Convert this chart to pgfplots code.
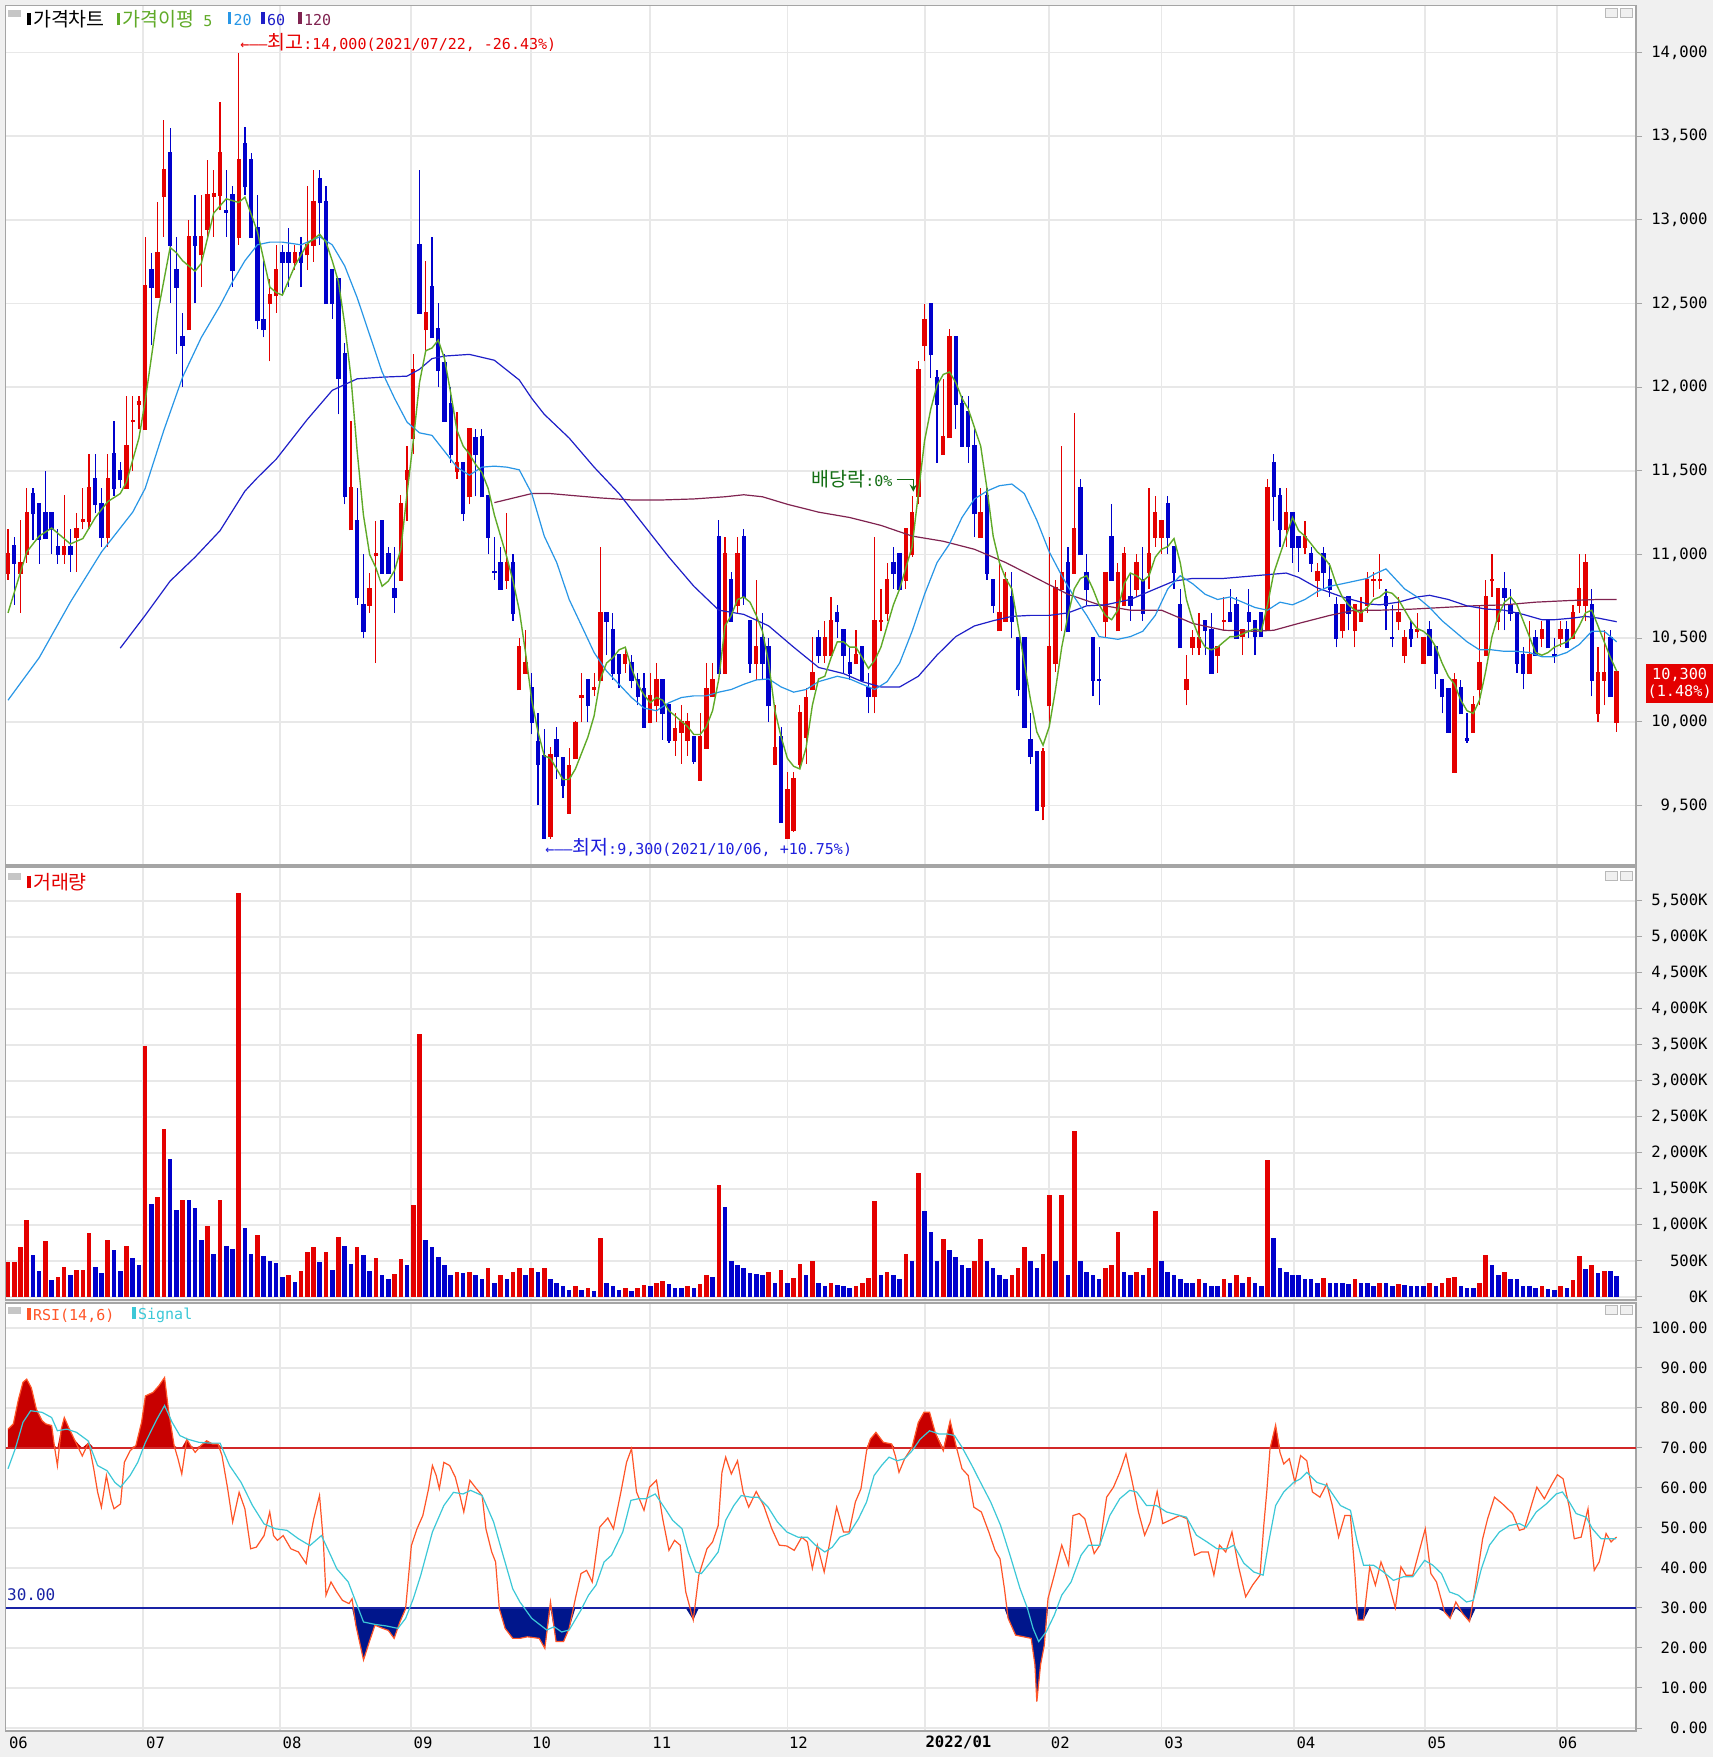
\documentclass[border=0pt]{standalone}
\usepackage{pgfplots}
\pgfplotsset{compat=1.18}
\usepackage{pgfplotstable}
\usepackage{fontspec}
\setmainfont{DejaVu Sans Mono}
\newfontfamily\kr[Scale=1.3]{Noto Sans CJK KR}

\definecolor{cUp}{RGB}{228,0,0}
\definecolor{cDn}{RGB}{0,0,204}
\definecolor{cMa5}{RGB}{96,170,40}
\definecolor{cMa20}{RGB}{40,150,230}
\definecolor{cMa60}{RGB}{30,30,200}
\definecolor{cMa120}{RGB}{128,35,80}
\definecolor{cRsi}{RGB}{255,85,40}
\definecolor{cSig}{RGB}{60,200,215}
\definecolor{cRsiUp}{RGB}{200,0,0}
\definecolor{cRsiDn}{RGB}{0,22,140}
\definecolor{c70}{RGB}{210,40,40}
\definecolor{c30}{RGB}{25,35,165}
\definecolor{cHi}{RGB}{230,0,0}
\definecolor{cLo}{RGB}{30,30,220}
\definecolor{cDiv}{RGB}{20,110,20}
\definecolor{cGrid}{RGB}{232,232,232}
\definecolor{cFrame}{RGB}{165,165,165}
\definecolor{cBack}{RGB}{240,240,240}

\newcommand\mk[1]{\textcolor{#1}{\rule[0.1ex]{1.6pt}{6pt}}}
\newcommand\xlab[2]{\node[anchor=west, inner sep=0, font=\fontsize{7.8pt}{9pt}\selectfont] at (axis cs:#1,-3.7) {#2};}

% daily candles: index, open, high, low, close
\pgfplotstableread{
i o h l c
0 10890 11150 10850 11000
1 11050 11104 10699 10950
2 10890 11205 10650 10950
3 11000 11400 10950 11250
4 11360 11400 11085 11245
5 11300 11300 10945 11095
6 11250 11500 11100 11100
7 11250 11250 11000 11150
8 11047 11150 10945 11000
9 11000 11357 10945 11047
10 11047 11150 10895 11000
11 11104 11250 10895 11150
12 11200 11400 11150 11205
13 11200 11600 11150 11400
14 11450 11600 11245 11300
15 11300 11400 11047 11104
16 11104 11600 11047 11450
17 11600 11800 11350 11395
18 11500 11550 11400 11450
19 11400 11950 11395 11650
20 11795 11950 11500 11800
21 11900 11950 11750 11910
22 11750 12900 11750 12604
23 12700 12800 12250 12600
24 12541 13105 12541 12800
25 13142 13595 12900 13300
26 13400 13547 12503 12851
27 12700 12900 12200 12600
28 12297 12446 12000 12250
29 12345 13000 12345 12900
30 12900 13150 12503 12851
31 12794 13150 12598 12900
32 12946 13357 12900 13150
33 13145 13300 12900 13152
34 13150 13705 13057 13400
35 13055 13300 12900 13050
36 13150 13205 12598 12700
37 12900 14000 12851 13357
38 13452 13557 13150 13200
39 13357 13400 12900 12900
40 12952 13150 12345 12400
41 12400 12756 12297 12345
42 12503 12645 12155 12550
43 12550 12850 12446 12700
44 12800 12850 12550 12750
45 12800 12950 12600 12750
46 12750 12850 12700 12800
47 12800 12900 12600 12750
48 12794 13200 12700 12851
49 12851 13300 12750 13105
50 13247 13300 12851 13105
51 13105 13200 12503 12503
52 12700 12700 12408 12503
53 12645 12645 11838 12054
54 12196 12265 11300 11348
55 11150 11800 11150 11400
56 11200 11400 10700 10746
57 10699 11000 10500 10540
58 10699 10890 10650 10794
59 10995 11200 10350 11000
60 11200 11200 10890 10890
61 11000 11047 10890 10890
62 10794 11047 10650 10746
63 10848 11357 10848 11300
64 11450 11650 11200 11500
65 11696 12196 11600 12100
66 12851 13300 12446 12446
67 12345 12756 12196 12446
68 12598 12900 12297 12297
69 12345 12503 12000 12100
70 12145 12196 11800 11800
71 11900 12000 11547 11600
72 11500 11850 11450 11547
73 11547 11547 11200 11245
74 11348 11750 11300 11750
75 11696 11750 11348 11600
76 11700 11750 11348 11348
77 11350 11350 11000 11104
78 10897 11104 10848 10895
79 10950 11047 10794 10794
80 10848 11250 10794 10950
81 10950 11000 10604 10650
82 10193 10500 10193 10445
83 10294 10547 10294 10350
84 10199 10294 9924 10000
85 9880 10054 9500 9750
86 9797 9956 9300 9306
87 9320 9850 9300 9800
88 9892 9971 9655 9797
89 9781 9781 9544 9623
90 9455 9845 9455 9734
91 9781 10006 9781 9990
92 10150 10294 9996 10152
93 10250 10250 9996 10098
94 10197 10294 10152 10199
95 10250 11047 10250 10650
96 10650 10650 10398 10604
97 10547 10650 10250 10294
98 10398 10398 10199 10294
99 10350 10445 10294 10398
100 10350 10398 10199 10250
101 10250 10294 10098 10152
102 10193 10294 9971 9971
103 10000 10294 10000 10152
104 10098 10350 10000 10250
105 10250 10250 9892 10050
106 10098 10098 9876 9892
107 9892 10050 9797 9955
108 9940 10098 9750 10000
109 9892 10050 9797 10000
110 9908 9908 9750 9766
111 9655 10050 9655 9908
112 9845 10350 9845 10193
113 10152 10350 10152 10250
114 11104 11205 10294 10294
115 10294 11104 10294 11000
116 10848 10895 10604 10604
117 10699 11104 10650 11000
118 11104 11150 10699 10746
119 10604 10604 10294 10350
120 10350 10848 10250 10445
121 10500 10650 10250 10350
122 10445 10500 10000 10098
123 9750 10098 9750 9845
124 9908 9971 9400 9400
125 9306 9702 9306 9591
126 9353 9702 9340 9655
127 9750 10098 9718 10050
128 9908 10199 9750 10145
129 10193 10508 10193 10294
130 10500 10547 10350 10398
131 10398 10600 10350 10500
132 10398 10746 10398 10604
133 10650 10700 10500 10604
134 10547 10547 10294 10398
135 10350 10445 10250 10294
136 10350 10547 10350 10398
137 10445 10445 10250 10250
138 10199 10294 10050 10152
139 10152 11104 10050 10604
140 10600 10794 10540 10604
141 10650 10950 10604 10848
142 10950 11047 10794 10890
143 11000 11000 10794 10794
144 10848 11150 10794 11150
145 11000 11350 10985 11245
146 11350 12155 11300 12100
147 12250 12500 12155 12400
148 12500 12500 12054 12196
149 12054 12100 11547 11900
150 11600 12050 11600 11700
151 11700 12345 11700 12300
152 12297 12297 11750 11900
153 11900 11950 11650 11650
154 11850 11950 11547 11650
155 11650 11750 11104 11245
156 11104 11400 11104 11245
157 11350 11400 10848 10890
158 10848 10848 10650 10699
159 10547 10950 10547 10650
160 10604 10895 10604 10848
161 10746 10895 10500 10604
162 10500 10500 10152 10193
163 10500 10500 9971 9971
164 9892 10050 9750 9797
165 9819 9819 9471 9471
166 9497 9845 9411 9819
167 10098 11104 9971 10445
168 10350 10850 10300 10800
169 10794 11650 10540 10890
170 10950 11047 10540 10540
171 10890 11845 10890 11150
172 11400 11450 11000 11000
173 10890 11000 10699 10794
174 10500 10500 10152 10250
175 10252 10445 10098 10250
176 10604 10890 10500 10890
177 11104 11300 10848 10848
178 10547 10950 10547 10890
179 10699 11047 10699 11000
180 10746 10890 10604 10699
181 10794 11000 10746 10950
182 10848 11047 10604 10650
183 10895 11400 10794 11000
184 11104 11350 11047 11250
185 11104 11200 11000 11200
186 11300 11350 11000 11104
187 11047 11047 10794 10895
188 10699 10794 10445 10445
189 10193 10398 10098 10250
190 10445 10547 10398 10500
191 10445 10650 10398 10500
192 10600 10600 10398 10547
193 10547 10650 10294 10294
194 10398 10445 10294 10445
195 10602 10746 10547 10604
196 10650 10794 10604 10604
197 10699 10746 10500 10500
198 10510 10547 10398 10547
199 10650 10794 10500 10604
200 10600 10600 10398 10510
201 10650 10650 10510 10510
202 10547 11450 10547 11400
203 11547 11600 11200 11348
204 11348 11400 11047 11150
205 11150 11400 11047 11250
206 11250 11250 10950 11047
207 11104 11104 10895 11047
208 11047 11200 11000 11104
209 11000 11047 10895 10950
210 10848 10950 10746 10895
211 11000 11047 10794 10895
212 10848 10950 10746 10794
213 10699 10746 10445 10500
214 10547 10699 10500 10699
215 10746 10746 10547 10650
216 10547 10699 10445 10699
217 10604 10746 10600 10650
218 10699 10895 10650 10848
219 10845 10895 10746 10848
220 10845 11000 10794 10848
221 10746 10794 10547 10699
222 10502 10699 10445 10500
223 10600 10746 10547 10650
224 10398 10547 10350 10500
225 10547 10600 10445 10500
226 10545 10650 10500 10547
227 10350 10500 10350 10500
228 10547 10600 10398 10398
229 10445 10445 10193 10294
230 10250 10250 10050 10152
231 10193 10193 9940 9940
232 9702 10294 9702 10250
233 10199 10250 10050 10050
234 9895 10050 9876 9892
235 9940 10152 9940 10098
236 10193 10699 10098 10350
237 10398 10848 10398 10746
238 10845 11000 10746 10848
239 10604 10794 10547 10794
240 10794 10895 10547 10746
241 10699 10794 10604 10650
242 10650 10650 10294 10350
243 10398 10445 10193 10294
244 10294 10600 10294 10398
245 10500 10547 10398 10398
246 10500 10600 10445 10547
247 10600 10600 10445 10445
248 10400 10500 10350 10398
249 10500 10600 10445 10547
250 10547 10600 10445 10445
251 10500 10699 10500 10650
252 10699 11000 10650 10794
253 10699 11000 10600 10950
254 10699 10794 10152 10250
255 10050 10445 10000 10294
256 10250 10547 10098 10294
257 10500 10547 10152 10152
258 10000 10300 9940 10300
}\candles

% volume in thousands; u = 1 for a red bar (volume above the day before)
\pgfplotstableread{
i v u
0 486 1
1 486 1
2 694 1
3 1065 1
4 579 0
5 356 0
6 773 1
7 231 0
8 278 1
9 417 1
10 301 0
11 370 1
12 370 1
13 894 1
14 417 0
15 333 0
16 796 1
17 648 0
18 356 0
19 704 1
20 546 0
21 440 0
22 3481 1
23 1292 0
24 1394 1
25 2333 1
26 1917 0
27 1204 0
28 1343 1
29 1343 0
30 1241 0
31 796 0
32 986 1
33 602 0
34 1343 1
35 704 0
36 667 0
37 5611 1
38 963 0
39 602 0
40 861 1
41 569 0
42 500 0
43 477 0
44 278 0
45 310 1
46 208 0
47 356 1
48 625 1
49 694 1
50 486 0
51 625 1
52 380 0
53 833 1
54 708 0
55 463 0
56 694 1
57 579 0
58 361 0
59 546 1
60 301 0
61 245 0
62 315 1
63 523 1
64 440 0
65 1273 1
66 3648 1
67 796 0
68 700 0
69 550 0
70 450 0
71 300 0
72 350 1
73 330 0
74 350 1
75 300 0
76 250 0
77 400 1
78 200 0
79 300 1
80 250 0
81 350 1
82 400 1
83 300 0
84 400 1
85 350 0
86 400 1
87 250 0
88 200 0
89 150 0
90 100 0
91 150 1
92 100 0
93 120 1
94 80 0
95 820 1
96 200 0
97 150 0
98 100 0
99 120 1
100 90 0
101 130 1
102 160 1
103 150 0
104 200 1
105 220 1
106 180 0
107 130 0
108 120 0
109 150 1
110 120 0
111 180 1
112 300 1
113 280 0
114 1560 1
115 1250 0
116 500 0
117 450 0
118 400 0
119 330 0
120 320 0
121 300 0
122 350 1
123 200 0
124 380 1
125 200 0
126 260 1
127 460 1
128 300 0
129 500 1
130 200 0
131 150 0
132 200 1
133 170 0
134 150 0
135 120 0
136 150 1
137 200 1
138 260 1
139 1330 1
140 300 0
141 350 1
142 300 0
143 250 0
144 600 1
145 500 0
146 1720 1
147 1200 0
148 900 0
149 500 0
150 800 1
151 650 0
152 550 0
153 450 0
154 400 0
155 500 1
156 800 1
157 500 0
158 400 0
159 300 0
160 250 0
161 300 1
162 400 1
163 700 1
164 500 0
165 400 0
166 600 1
167 1420 1
168 500 0
169 1420 1
170 300 0
171 2300 1
172 500 0
173 350 0
174 300 0
175 250 0
176 400 1
177 450 1
178 900 1
179 350 0
180 300 0
181 350 1
182 300 0
183 400 1
184 1200 1
185 500 0
186 350 0
187 300 0
188 250 0
189 200 0
190 200 0
191 250 1
192 200 0
193 150 0
194 150 0
195 250 1
196 200 0
197 300 1
198 200 0
199 280 1
200 200 0
201 150 0
202 1900 1
203 820 0
204 400 0
205 350 0
206 300 0
207 300 0
208 250 0
209 250 0
210 200 0
211 260 1
212 200 0
213 200 0
214 200 0
215 180 0
216 250 1
217 200 0
218 200 0
219 150 0
220 200 1
221 200 0
222 150 0
223 180 1
224 160 0
225 150 0
226 150 0
227 150 0
228 200 1
229 150 0
230 200 1
231 260 1
232 280 1
233 150 0
234 120 0
235 120 0
236 200 1
237 580 1
238 450 0
239 300 0
240 350 1
241 250 0
242 250 0
243 150 0
244 150 0
245 120 0
246 148 1
247 116 0
248 102 0
249 148 1
250 125 0
251 231 1
252 565 1
253 394 0
254 440 1
255 333 0
256 356 1
257 356 0
258 292 0
}\volume

\pgfplotstableread{
x y
0 74.7
0.86 76
1.66 82
2.4 86.4
3.0 87.2
3.75 85
4.55 79.7
5.47 76.8
6.08 76
7.0 75.6
7.43 70.6
7.92 65.6
8.54 74.7
9.03 77.6
9.76 75
10.68 72
11.91 68
12.95 71.4
13.75 64.8
14.37 59
14.98 55.2
15.78 63.1
16.51 57.3
17.0 54.8
18.05 56
18.66 66.4
19.58 69.3
20.51 70.6
21.42 76.4
22.04 83
23.27 83.9
24.18 85.5
25.11 87.6
25.72 79.7
26.64 70.6
27.26 67.3
27.87 63.5
28.67 72.2
29.28 70.6
30.02 68.9
30.94 70.6
31.86 71.8
32.78 71
33.69 71
34.32 68.1
35.23 59.8
36.03 51.5
37.07 58.9
37.99 54.8
38.92 44.8
39.83 45.2
41.07 48.1
41.98 54
42.59 48.1
43.21 46.9
44.13 48.1
45.36 44.8
46.58 44
47.81 41.1
48.42 47.3
49.04 52.3
49.96 58.1
50.58 46.5
51.0 33.2
51.8 36.5
52.73 34
53.64 31.9
54.69 31.1
55.18 32.3
55.79 25.7
57.02 17
57.94 21.5
58.85 25.7
60.09 24.9
61.0 24.4
61.93 22.4
62.85 26.5
63.77 29.8
64.69 45.6
65.6 49.8
66.53 53.1
67.45 59.8
68.07 65.6
68.68 63.1
69.17 59.8
69.9 66.4
70.83 65.6
71.74 62.7
72.36 58.9
73.1 54
74.08 61.9
75.13 59.8
76.04 58.1
76.65 49.8
77.58 44
78.2 41.5
78.8 29.8
79.73 24.9
80.95 22.4
82.1 22.4
83.3 22.8
85.2 22.4
86.1 19.9
87 31.5
87.9 21.6
89.1 21.6
90 24.9
91 32.4
91.9 38.6
92.8 39.4
93.7 36.5
94.9 50.2
96.2 52.5
97.1 49.8
98.3 59
99.2 66.4
100 69.8
100.8 59
102 54.4
102.9 60.2
104 61.9
105 52.3
106 44.4
106.9 46.9
107.8 45.7
108.7 34
109.9 27
110.8 38.2
112.1 44.8
113 46.5
113.9 50.6
114.5 63.9
115.1 67.7
116 63.5
117 66.8
117.9 59
118.8 55.2
120 59.1
121.2 55.6
122.5 49.8
123.7 45.7
124.9 45.5
126.1 44.4
127.3 47.7
128.2 46.5
129 39.9
129.8 45.7
130.9 39
131.9 47.3
132.9 55.2
134 49
134.9 49
135.9 56.5
136.8 59.8
137.7 69.3
138.3 72.2
139.2 73.9
140.4 71.4
141.7 71
142.3 68.1
142.9 63.9
143.8 67.3
145 70.2
146 76.4
146.9 78.9
147.8 78.9
148.7 73.9
150 69.3
151.1 76.8
152.1 70.2
153 64.8
154 63.1
154.9 55.2
156.1 54
157.3 49
158.3 44.4
159.1 42.3
159.8 34.9
160.4 27.4
161.6 23.2
162.9 22.8
164.1 22.4
164.7 15.8
165 6.6
165.6 15.8
166.2 20.7
166.8 32.4
167.8 38.2
169 45.7
170.1 40.7
170.8 53.1
171.8 53.6
172.7 52.3
174.2 43.6
175.1 45.7
176.2 57.7
177.3 60.2
178.3 63.9
179.3 68.5
180.2 62.3
181.3 54
182.3 48.2
183.2 51.5
184.3 59.1
185.2 51.1
186.3 51.9
187.9 53.1
189.1 52.3
190.3 43.2
191.4 44
192.5 44
193.4 38.2
194.3 45.7
195.3 44
196.3 49
197.3 40.7
198.5 32.8
199.6 35.7
200.8 38.2
201.4 50.6
201.9 59.4
202.4 69.8
203.3 75.7
204 68.9
204.6 66
205.5 67.3
206.4 61.4
207.3 68.1
208.3 66.8
209.2 59
210.4 57.7
211.5 61
212.4 55.6
213.4 47.7
214.4 53.1
215.3 53.1
216 39
216.5 27
217.4 27
218.4 40.3
219.3 35.7
220.2 41.5
221.3 36.9
222.5 30
223.4 40.3
224.2 38.2
225.3 38.2
226.3 44
227.3 49.8
228.2 38.6
229.1 36.5
230.4 29
231.3 27.4
232.2 31.5
233.3 28.6
234.4 26.6
235.4 35.7
236.5 47.3
237.3 52.3
238.4 57.7
239.7 56
241.3 53.6
242.4 49.4
243.2 49.8
244 54
245.2 60.2
246.4 57.3
247.5 60.6
248.5 63.3
249.4 62.3
250.4 55.2
251.2 47.3
252.3 47.7
253.4 54.8
254.4 39.4
255.2 41.5
256.3 48.6
257.1 46.5
257.6 47.3
258 47.7
}\rsitab

\pgfplotstableread{
x y
0 64.8
1.17 69.8
2.4 76.4
3.63 79.3
5.47 78.9
7.0 77.6
7.92 74.3
9.46 74.7
10.99 73.9
12.83 71.8
14.37 65.6
15.9 64.3
17.13 61.4
18.05 60.2
19.58 63.1
20.81 66.4
22.04 71.4
23.88 77.2
25.11 80.6
26.33 76.4
27.56 73.1
28.79 72.2
30.63 71.4
32.47 71.2
34.01 71.2
35.54 65.6
37.38 61.4
39.22 55.6
41.07 51
42.9 49.8
44.74 49.4
46.58 47.3
48.42 45.6
50.27 48.1
51.5 44
52.73 39.8
54.57 36.5
55.79 31.5
57.02 26.5
58.85 25.9
60.7 25.5
62.54 24.9
63.77 27.4
65.0 32.3
66.2 38.2
68.07 49
69.9 55.6
71.44 58.9
72.98 58.5
74.2 59.4
76.04 58.1
77.88 51.5
79.1 44.8
80.95 34.8
82.1 31.5
84 27.4
86.4 24.5
87.6 25.3
88.8 24
90 24.5
91.9 29.5
93.1 33.2
94.3 35.7
95.6 41.5
96.8 43.2
98.6 49
99.9 56.9
101.1 57.3
102.3 57.3
103.8 58.5
105.4 54.8
106.6 51.9
108.1 49.8
109.1 44
110.3 39
111.2 38.6
112.7 41.5
113.9 44
115.1 51.9
116.4 55.6
117.6 58.1
119.1 57.7
120.3 57.7
121.9 55.2
123.4 51.5
124.9 49
126.7 47.7
128.2 47.7
129.5 45.7
131 44
132.2 45.2
133.4 47.7
134.9 48.6
136.4 52.3
137.7 56.5
138.9 63.1
140.1 65.6
141.3 67.7
142.6 66.8
143.8 67.3
145 69.3
146.3 72.2
147.8 74.3
149.3 73.5
150.6 73.5
151.8 73.1
153 70.2
154.6 65.6
156.1 61
157.6 56.5
159.2 50.6
160.7 43.2
162.3 34.9
163.5 29.9
164.4 24.9
165.3 21.6
166.5 24
167.8 28.2
169 33.2
170.5 36.5
172.1 43.2
173.3 45.7
175.1 45.7
176.7 53.1
178.3 57.3
179.9 59.4
181 59
182.6 55.6
184.2 55.6
185.8 54
188 53.1
189 52.7
190.6 48.2
192.3 46.5
193.9 44.8
195.5 44.8
196.6 45.7
198.2 41.2
199.8 39
201.3 38.2
202.2 46.5
203.3 55.6
204.6 59
206.2 61.4
207.3 62.3
208.3 63.9
209.9 61.4
211.5 60.6
212.6 58.1
213.7 55.6
215.3 54.4
216.4 46.5
217.4 40.7
219 40.7
220.6 39
222.2 36.9
223.8 37.8
225.3 37.8
227.2 41.9
228.5 40.7
229.9 38.6
231.2 34
232.6 33.2
233.9 31.5
235 31.9
236.3 39.8
237.6 45.7
239.2 49
240.8 50.6
242.4 51.1
243.5 50.2
245.1 54
246.7 56
248.3 58.5
249.3 59
250.4 56.5
251.5 53.6
253.1 52.7
254.1 49.8
255.5 47.3
256.8 47.3
257.9 47.3
}\sigtab

\pgfplotsset{
  panel/.style={
    scale only axis, width=815.2pt, anchor=south west,
    xmin=-0.385, xmax=261.1,
    axis background/.style={fill=white},
    axis line style={draw=cFrame, line width=0.8pt},
    xtick={21.7,43.6,64.6,83.9,102.9,125,147.1,166.9,185,206.2,227.2,248.4},
    xticklabels={}, xtick style={draw=none},
    xmajorgrids, ymajorgrids,
    major grid style={draw=cGrid, line width=0.9pt},
    ytick pos=right, yticklabel pos=right,
    tick align=outside, major tick length=3pt,
    ytick style={draw=cFrame, line width=0.5pt},
    yticklabel style={anchor=east, xshift=35.5pt, text=black,
      font=\fontsize{7.8pt}{8pt}\selectfont},
    scaled y ticks=false,
    /pgf/number format/assume math mode=true,
    colormap={updn}{color=(cUp) color=(cDn)},
    point meta min=0, point meta max=1,
  },
}

\begin{document}
\fontsize{7.5pt}{9pt}\selectfont
\begin{tikzpicture}
\useasboundingbox (0,0) rectangle (856.5pt,878.5pt);
\fill[cBack] (0,0) rectangle (856.5pt,878.5pt);

% ---------------- price panel
\begin{axis}[panel, at={(2.8pt,446pt)}, height=429.7pt,
  ymin=9144, ymax=14281, ytick={9500,10000,...,14000},
  yticklabel={\pgfmathprintnumber[1000 sep={,}]{\tick}},
  clip=false]
% wicks, low to high
\addplot[line width=0.6pt, forget plot,
  point meta={\thisrow{c}<\thisrow{o}},
  quiver={u=0, v=\thisrow{h}-\thisrow{l}, colored}]
  table[x=i, y=l] {\candles};
% bodies, open to close
\addplot[line width=2.2pt, forget plot,
  point meta={\thisrow{c}<\thisrow{o}},
  quiver={u=0, v=abs(\thisrow{c}-\thisrow{o})+12, colored}]
  table[x=i, y expr={min(\thisrow{o},\thisrow{c})-6}] {\candles};

% moving average 120
\addplot[cMa120, line width=0.6pt] table {
x y
78 11310
84 11364
87 11364
95 11338
100 11326
105 11326
110 11332
115 11345
118 11357
121 11345
125 11300
130 11253
135 11221
140 11174
145 11110
150 11079
155 11031
160 10952
165 10857
170 10762
175 10699
180 10667
185 10667
190 10588
195 10547
200 10541
203 10547
207 10588
212 10636
216 10667
220 10667
225 10673
230 10683
235 10693
240 10699
245 10715
250 10724
255 10731
258 10731
};
% moving average 60
\addplot[cMa60, line width=0.6pt] table {
x y
18 10440
22 10636
26 10841
30 10984
34 11142
38 11379
40 11459
43 11569
48 11807
52 11981
56 12050
60 12060
64 12066
66 12107
68 12171
70 12186
74 12196
78 12161
82 12043
84 11933
86 11838
90 11696
94 11522
98 11364
102 11174
106 10984
110 10810
114 10667
118 10642
122 10573
126 10446
130 10325
134 10288
137 10240
140 10208
143 10208
146 10272
149 10399
152 10509
155 10573
158 10604
161 10630
164 10636
167 10636
170 10651
173 10693
176 10699
180 10731
184 10794
187 10841
190 10857
195 10857
200 10873
205 10889
207 10863
210 10800
214 10746
218 10705
220 10699
223 10715
226 10746
228 10756
231 10731
234 10693
237 10674
240 10667
243 10642
246 10610
248 10610
251 10620
253 10630
255 10620
258 10598
};
% moving average 20
\addplot[cMa20, line width=0.6pt] table {
x y
0 10129
5 10383
10 10715
15 11015
20 11253
22 11395
25 11743
28 12060
31 12297
34 12487
36 12630
38 12756
40 12851
42 12867
44 12867
47 12851
50 12899
52 12851
54 12725
56 12535
58 12313
60 12091
62 11933
64 11791
66 11727
68 11712
70 11617
72 11522
74 11474
76 11522
78 11528
80 11522
82 11506
84 11364
86 11110
88 10952
90 10731
92 10573
94 10414
96 10303
98 10224
100 10145
102 10082
104 10066
106 10114
108 10145
110 10155
112 10155
114 10177
116 10193
118 10224
120 10250
122 10256
124 10208
126 10177
128 10193
130 10240
133 10272
135 10256
137 10224
139 10193
141 10240
143 10351
145 10541
147 10762
149 10952
151 11063
153 11221
155 11332
157 11379
159 11411
161 11421
163 11364
165 11205
167 11015
169 10873
171 10746
173 10636
175 10509
178 10493
180 10509
182 10541
184 10636
186 10794
188 10873
190 10825
192 10762
194 10731
196 10746
198 10715
200 10683
202 10667
204 10715
206 10699
208 10731
210 10778
212 10810
214 10825
216 10841
218 10857
219 10880
221 10914
224 10794
226 10746
228 10683
230 10604
232 10541
234 10478
236 10430
238 10430
240 10421
242 10421
244 10414
246 10389
248 10389
250 10414
252 10462
254 10541
256 10541
258 10478
};
% moving average 5
\addplot[cMa5, line width=0.7pt] table {
x y
0 10651
3 11015
5 11110
7 11158
9 11095
10 11063
12 11095
14 11221
16 11316
18 11364
19 11433
21 11696
22 11917
24 12440
26 12835
27 12804
28 12756
30 12693
31 12740
33 13041
35 13126
37 13104
38 13136
40 12930
42 12598
43 12566
44 12550
46 12725
48 12857
50 12914
51 12867
52 12756
53 12630
54 12376
55 12060
56 11617
57 11237
58 11000
59 10921
60 10810
61 10841
62 10905
63 11031
64 11364
65 11680
66 12028
67 12218
68 12234
69 12281
70 12171
71 11965
72 11743
73 11648
74 11601
75 11538
76 11490
77 11395
78 11237
79 11110
80 10984
81 10841
82 10667
83 10414
84 10129
85 9940
86 9797
87 9781
88 9718
89 9655
90 9655
91 9718
92 9813
93 9908
94 10035
95 10256
96 10351
97 10383
98 10430
99 10446
100 10319
101 10224
102 10161
103 10114
104 10145
105 10129
106 10066
107 10035
108 10003
109 9971
110 9924
111 9924
112 9971
113 10066
114 10256
115 10573
116 10636
117 10731
118 10746
119 10715
120 10636
121 10541
122 10351
123 10066
124 9908
125 9781
126 9734
127 9718
128 9845
129 10098
130 10256
131 10272
132 10383
133 10478
134 10478
135 10446
136 10446
137 10383
138 10319
139 10367
140 10446
141 10573
142 10699
143 10794
144 10921
145 11047
146 11364
147 11680
148 11870
149 12012
150 12076
151 12091
152 12028
153 11933
154 11870
155 11759
156 11648
157 11395
158 11110
159 10952
160 10857
161 10794
162 10573
163 10351
164 10129
165 9940
166 9860
167 9971
168 10193
169 10446
170 10636
171 10794
172 10857
173 10873
174 10794
175 10699
176 10636
177 10610
178 10667
179 10825
180 10889
181 10873
182 10841
183 10873
184 10984
185 11031
186 11047
187 11095
188 10952
189 10731
190 10604
191 10509
192 10446
193 10430
194 10446
195 10478
196 10509
197 10509
198 10525
199 10541
200 10557
201 10541
202 10699
203 10889
204 11000
205 11110
206 11221
207 11142
208 11110
209 11063
210 11015
211 10984
212 10936
213 10825
214 10746
215 10699
216 10667
217 10651
218 10683
219 10731
220 10746
221 10778
222 10768
223 10731
224 10667
225 10604
226 10557
227 10541
228 10509
229 10446
230 10351
231 10272
232 10224
233 10129
234 10066
235 10050
236 10129
237 10303
238 10509
239 10636
240 10715
241 10746
242 10699
243 10604
244 10509
245 10414
246 10398
247 10414
248 10446
249 10462
250 10478
251 10509
252 10573
253 10651
254 10667
255 10573
256 10478
257 10383
258 10303
};

\node[anchor=west, inner sep=0, text=cHi] at (axis cs:37.2,14060)
  {←——{\kr 최고}:14,000(2021/07/22, -26.43\%)};
\node[anchor=west, inner sep=0, text=cLo] at (axis cs:86.1,9246)
  {←——{\kr 최저}:9,300(2021/10/06, +10.75\%)};
\node[anchor=east, inner sep=0, text=cDiv] at (axis cs:141.9,11449)
  {{\kr 배당락}:0\%};
\draw[cDiv, line width=0.6pt, -stealth] (axis cs:142.5,11449) -- (axis cs:145.2,11449) -- (axis cs:145.2,11375);
\node[fill=cUp, text=white, inner xsep=0.8pt, inner ysep=1.9pt, align=center,
  font=\fontsize{7.6pt}{8.6pt}\selectfont] at (axis cs:268.1,10229) {10,300\\(1.48\%)};
\end{axis}

% ---------------- volume panel
\begin{axis}[panel, at={(2.8pt,228.5pt)}, height=216.5pt,
  ymin=-41.7, ymax=5972, ytick={0,500,...,5500},
  yticklabel={\pgfmathprintnumber[1000 sep={,}]{\tick}K}]
\addplot[line width=2.3pt, forget plot,
  point meta={1-\thisrow{u}},
  quiver={u=0, v=\thisrow{v}, colored}]
  table[x=i, y expr=0] {\volume};
\end{axis}

% ---------------- RSI panel
\begin{axis}[panel, at={(2.8pt,13pt)}, height=214pt,
  ymin=-0.75, ymax=106.23, ytick={0,10,...,100},
  yticklabel={\pgfmathprintnumber[fixed,fixed zerofill,precision=2]{\tick}},
  clip=false]
\addplot[fill=cRsiUp, draw=none, forget plot]
  table[x=x, y expr={max(\thisrow{y},70)}] {\rsitab} -- (axis cs:258,70) -- (axis cs:0,70) -- cycle;
\addplot[fill=cRsiDn, draw=none, forget plot]
  table[x=x, y expr={min(\thisrow{y},30)}] {\rsitab} -- (axis cs:258,30) -- (axis cs:0,30) -- cycle;
\addplot[c70, line width=0.8pt, forget plot] coordinates {(-0.385,70) (261.1,70)};
\addplot[c30, line width=0.8pt, forget plot] coordinates {(-0.385,30) (261.1,30)};
\addplot[cRsi, line width=0.6pt] table {\rsitab};
\addplot[cSig, line width=0.6pt] table {\sigtab};
\node[anchor=west, inner sep=0, text=c30, font=\fontsize{8pt}{9pt}\selectfont] at (axis cs:-0.2,33.4) {30.00};
\xlab{0.1}{06}
\xlab{22.1}{07}
\xlab{44.0}{08}
\xlab{65.0}{09}
\xlab{84.0}{10}
\xlab{103.3}{11}
\xlab{125.2}{12}
\xlab{167.2}{02}
\xlab{185.4}{03}
\xlab{206.6}{04}
\xlab{227.6}{05}
\xlab{248.6}{06}
\node[anchor=west, inner sep=0, font=\bfseries\fontsize{7.8pt}{9pt}\selectfont] at (axis cs:147.1,-3.7) {2022/01};
\end{axis}

% ---------------- panel headers
\foreach \y in {870pt,438.5pt,221.5pt} {
  \fill[gray!45] (4pt,\y) rectangle +(6.5pt,3.5pt);
  \draw[gray!55, fill=gray!12, line width=0.4pt] (802.5pt,\y) rectangle +(6pt,4.5pt);
  \draw[gray!55, fill=gray!12, line width=0.4pt] (810pt,\y) rectangle +(6pt,4.5pt);
}
\node[anchor=west, inner sep=0] at (13.5pt,869pt) {\mk{black}\,{\kr 가격차트}};
\node[anchor=west, inner sep=0, text=cMa5] at (58.3pt,869pt) {\mk{cMa5}\,{\kr 가격이평} 5};
\node[anchor=west, inner sep=0, text=cMa20] at (113.7pt,869pt) {\mk{cMa20}\,20};
\node[anchor=west, inner sep=0, text=cMa60] at (130.5pt,869pt) {\mk{cMa60}\,60};
\node[anchor=west, inner sep=0, text=cMa120] at (149pt,869pt) {\mk{cMa120}\,120};
\node[anchor=west, inner sep=0, text=cUp] at (13.5pt,437.6pt) {\mk{cUp}\,{\kr 거래량}};
\node[anchor=west, inner sep=0, text=cRsi] at (13.5pt,220.9pt) {\mk{cRsi}\,RSI(14,6)};
\node[anchor=west, inner sep=0, text=cSig] at (66pt,220.9pt) {\mk{cSig}\,Signal};
\end{tikzpicture}
\end{document}
